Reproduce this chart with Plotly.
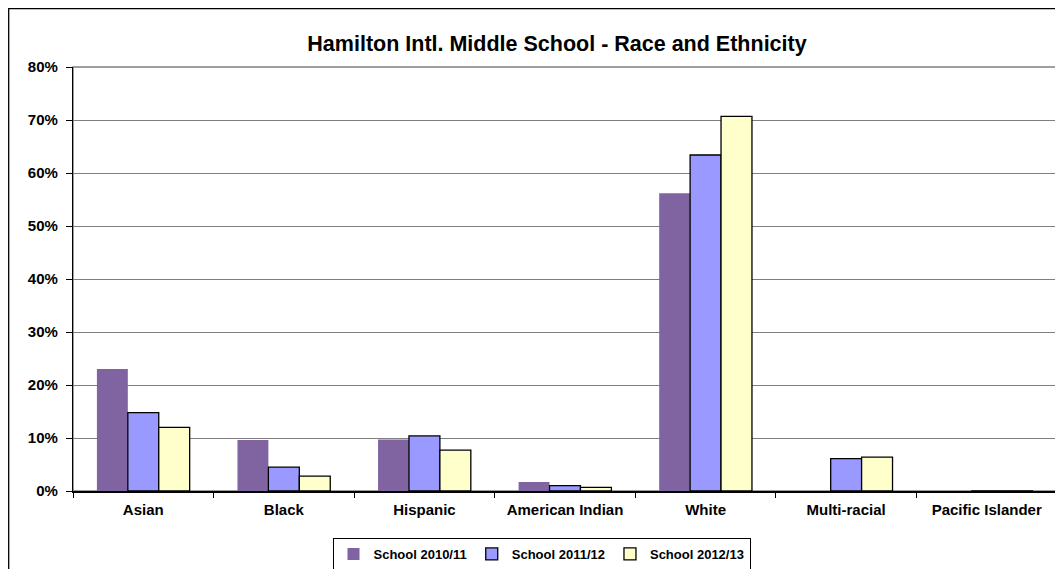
import plotly.graph_objects as go

categories = ["Asian", "Black", "Hispanic", "American Indian", "White", "Multi-racial", "Pacific Islander"]
school_2010_11 = [23.0, 9.6, 9.7, 1.7, 56.2, 0.0, 0.0]
school_2011_12 = [14.8, 4.5, 10.4, 1.0, 63.4, 6.1, 0.0]
school_2012_13 = [12.0, 2.8, 7.7, 0.7, 70.7, 6.4, 0.0]
y_ticks = [0, 10, 20, 30, 40, 50, 60, 70, 80]
y_tick_labels = [f"{v}%" for v in y_ticks]

FONT = "Arial, 'Liberation Sans', sans-serif"

fig = go.Figure()
fig.add_trace(go.Bar(name="School 2010/11", x=categories, y=school_2010_11,
                     marker=dict(color="#8064A2", line=dict(color="#8064A2", width=0))))
fig.add_trace(go.Bar(name="School 2011/12", x=categories, y=school_2011_12,
                     marker=dict(color="#9999FF", line=dict(color="black", width=1.3))))
fig.add_trace(go.Bar(name="School 2012/13", x=categories, y=school_2012_13,
                     marker=dict(color="#FFFFCC", line=dict(color="black", width=1.3))))

OFF = 8  # page body margin
W, H = 1063, 569
# plot area in page coords: x 73..1057, y 67..491
L = 73 - OFF
R = W - (1057 - OFF)
T = 67 - OFF
B = H - (491 - OFF)
pw, ph = W - L - R, H - T - B

def px_x(x):
    return (x - OFF - L) / pw

def px_y(y):
    return (H - B - (y - OFF)) / ph

fig.update_layout(
    width=W, height=H,
    margin=dict(l=L, r=R, t=T, b=B, pad=0, autoexpand=False),
    paper_bgcolor="white", plot_bgcolor="white",
    font=dict(family=FONT, color="black"),
    barmode="group", bargap=0.34, bargroupgap=0,
    title=dict(text="Hamilton Intl. Middle School - Race and Ethnicity",
               x=px_x(557), xref="paper", xanchor="center",
               y=1 - (43 - OFF) / H, yanchor="middle",
               font=dict(size=21.5, family=FONT, color="black", weight="bold")),
    xaxis=dict(
        showgrid=False, showline=True, linecolor="black", linewidth=1.5,
        ticks="outside", tickson="boundaries", ticklen=5, tickcolor="black",
        tickfont=dict(size=15, family=FONT, color="black", weight="bold"),
        zeroline=False, automargin=False, ticklabelstandoff=4,
    ),
    yaxis=dict(
        range=[0, 80], tickvals=y_ticks, ticktext=y_tick_labels,
        showgrid=True, gridcolor="#7f7f7f", gridwidth=1.3,
        showline=True, linecolor="black", linewidth=1.3,
        ticks="outside", ticklen=6, tickcolor="black",
        tickfont=dict(size=15, family=FONT, color="black", weight="bold"),
        zeroline=False, ticklabelstandoff=5, automargin=False,
    ),
    legend=dict(
        orientation="h", x=px_x(541.5), xanchor="center",
        y=px_y(538), yanchor="top",
        bordercolor="black", borderwidth=1, bgcolor="white",
        font=dict(size=13, family=FONT, color="black", weight="bold"),
        itemwidth=30, tracegroupgap=0,
    ),
    showlegend=True,
)

# plot area border (gray top and right)
fig.add_shape(type="rect", xref="paper", yref="paper", x0=0, y0=0, x1=1, y1=1,
              line=dict(color="#7f7f7f", width=1.5), layer="below")
# outer chart frame
fig.add_shape(type="rect", xref="paper", yref="paper",
              x0=px_x(8.7), y0=px_y(600), x1=px_x(1100), y1=px_y(8.7),
              line=dict(color="black", width=1.3), fillcolor="rgba(0,0,0,0)")

fig.write_html("out.html")
